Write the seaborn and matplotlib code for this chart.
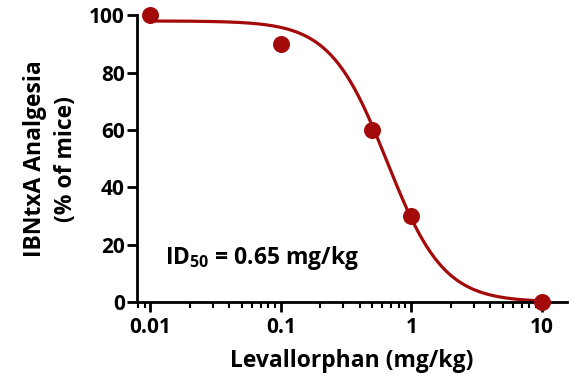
import numpy as np
import pandas as pd
import matplotlib
matplotlib.use("Agg")
import matplotlib.pyplot as plt
import seaborn as sns
from matplotlib.ticker import LogLocator, FixedLocator, NullFormatter

# Data
dose = [0.01, 0.1, 0.5, 1.0, 10.0]
analgesia = [100, 90, 60, 30, 0]
x_ticks = [0.01, 0.1, 1, 10]
x_tick_labels = ["0.01", "0.1", "1", "10"]
y_ticks = [0, 20, 40, 60, 80, 100]

# Fitted dose-response parameters (Hill fit)
fit_top = 98.0
fit_bottom = 0.0
fit_id50 = 0.65
fit_hill = 2.0

sns.set_style("ticks")
FONT = 'Open Sans'
plt.rcParams['font.family'] = [FONT, 'DejaVu Sans']
plt.rcParams['font.weight'] = 'bold'
plt.rcParams['text.color'] = 'black'
plt.rcParams['axes.labelcolor'] = 'black'
plt.rcParams['xtick.color'] = 'black'
plt.rcParams['ytick.color'] = 'black'
plt.rcParams['mathtext.fontset'] = 'custom'
plt.rcParams['mathtext.rm'] = FONT + ':bold'
plt.rcParams['mathtext.bf'] = FONT + ':bold'
plt.rcParams['mathtext.it'] = FONT + ':bold'

red = "#A30A0A"

fig = plt.figure(figsize=(5.69, 3.80), dpi=100)
ax = fig.add_axes([0.241, 0.205, 0.755, 0.755])

xs = np.logspace(np.log10(0.01), np.log10(10), 300)
ys = fit_bottom + (fit_top - fit_bottom) / (1 + (xs / fit_id50) ** fit_hill)
curve = pd.DataFrame({"dose": xs, "resp": ys})
pts = pd.DataFrame({"dose": dose, "resp": analgesia})

sns.lineplot(data=curve, x="dose", y="resp", color=red, linewidth=2.3, ax=ax)
sns.scatterplot(data=pts, x="dose", y="resp", color=red, s=150, edgecolor=red,
                linewidth=0, ax=ax, clip_on=False, zorder=5)

ax.set_xscale("log")
ax.set_xlim(0.0079, 15.5)
ax.set_ylim(0, 100)

ax.xaxis.set_major_locator(FixedLocator(x_ticks))
ax.set_xticklabels(x_tick_labels)
ax.xaxis.set_minor_locator(LogLocator(base=10, subs=np.arange(2, 10)))
ax.xaxis.set_minor_formatter(NullFormatter())
ax.set_yticks(y_ticks)

for s in ["top", "right"]:
    ax.spines[s].set_visible(False)
for s in ["left", "bottom"]:
    ax.spines[s].set_linewidth(2)
    ax.spines[s].set_color("black")

ax.tick_params(axis="both", which="major", direction="out", length=7, width=2,
               labelsize=15, colors="black")
ax.tick_params(axis="x", which="minor", direction="out", length=4, width=1.5)
ax.tick_params(axis="y", pad=2)
ax.tick_params(axis="x", pad=4)
for lab in ax.get_xticklabels() + ax.get_yticklabels():
    lab.set_fontweight("bold")

ax.set_xlabel("Levallorphan (mg/kg)", fontsize=16.5, fontweight="bold", labelpad=8)
ax.set_ylabel("IBNtxA Analgesia\n(% of mice)", fontsize=16.5, fontweight="bold",
              labelpad=8, linespacing=1.35)

ax.text(0.013, 15.5, r"ID$_{50}$ = 0.65 mg/kg", fontsize=16.5, fontweight="bold",
        va="center", ha="left")

fig.savefig("out.png", dpi=100)
